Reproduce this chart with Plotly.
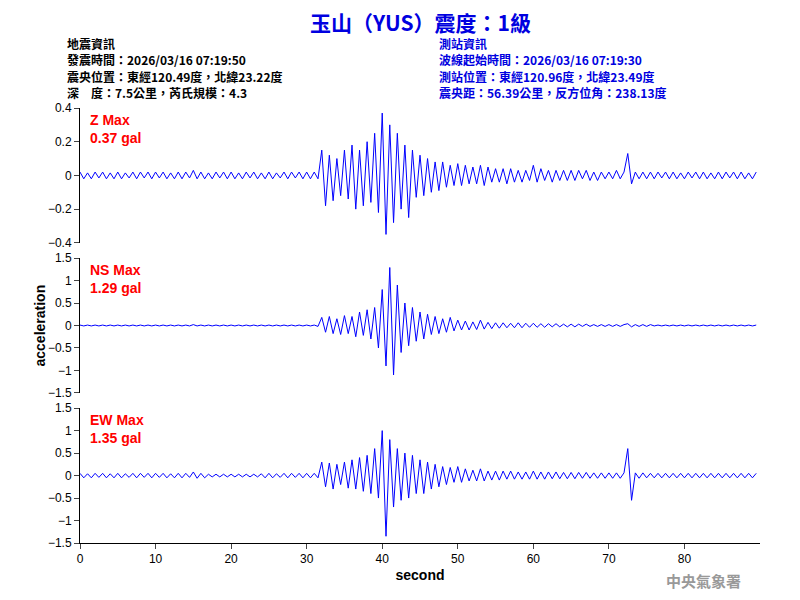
import numpy as np
import plotly.graph_objects as go

# sample time (s), 0.5 s step
t = np.arange(0, 90, 0.5)

z_vals = [
    0.02, -0.02, 0.015, -0.02, 0.02, -0.015, 0.02, -0.02, 0.015, -0.02, 0.02, -0.02, 0.015, -0.015, 0.02, -0.02, 0.02, -0.015, 0.02, -0.02,
    0.02, -0.015, 0.02, -0.02, 0.015, -0.02, 0.02, -0.02, 0.02, -0.015, 0.03, -0.02, 0.02, -0.02, 0.015, -0.02, 0.02, -0.015, 0.02, -0.02,
    0.02, -0.02, 0.015, -0.02, 0.02, -0.015, 0.02, -0.02, 0.015, -0.02, 0.02, -0.02, 0.015, -0.015, 0.02, -0.02, 0.02, -0.015, 0.02, -0.02,
    0.02, -0.02, 0.02, -0.02, 0.15, -0.18, 0.12, -0.15, 0.1, -0.12, 0.15, -0.14, 0.18, -0.2, 0.15, -0.18, 0.2, -0.16, 0.25, -0.22,
    0.37, -0.35, 0.3, -0.28, 0.25, -0.2, 0.18, -0.25, 0.15, -0.13, 0.12, -0.12, 0.1, -0.1, 0.08, -0.09, 0.08, -0.07, 0.06, -0.06,
    0.07, -0.06, 0.06, -0.05, 0.05, -0.05, 0.06, -0.06, 0.05, -0.04, 0.04, -0.04, 0.04, -0.05, 0.04, -0.04, 0.03, -0.04, 0.03, -0.03,
    0.06, -0.04, 0.04, -0.03, 0.03, -0.04, 0.03, -0.03, 0.03, -0.03, 0.03, -0.03, 0.03, -0.02, 0.03, -0.03, 0.02, -0.03, 0.02, -0.02,
    0.02, -0.02, 0.03, -0.02, 0.02, 0.13, -0.05, 0.02, -0.02, 0.02, -0.02, 0.02, -0.02, 0.02, -0.015, 0.02, -0.02, 0.02, -0.02, 0.015,
    -0.02, 0.02, -0.015, 0.02, -0.02, 0.02, -0.02, 0.015, -0.02, 0.02, -0.02, 0.02, -0.015, 0.02, -0.02, 0.02, -0.02, 0.015, -0.02, 0.02,
]

ns_vals = [
    0.01, -0.01, 0.01, -0.01, 0.01, -0.01, 0.01, -0.01, 0.01, -0.01, 0.01, -0.01, 0.01, -0.01, 0.01, -0.01, 0.01, -0.01, 0.01, -0.01,
    0.01, -0.01, 0.01, -0.01, 0.01, -0.01, 0.01, -0.01, 0.01, -0.01, 0.02, -0.01, 0.01, -0.01, 0.01, -0.01, 0.01, -0.01, 0.01, -0.01,
    0.01, -0.01, 0.01, -0.01, 0.01, -0.01, 0.01, -0.01, 0.01, -0.01, 0.01, -0.01, 0.01, -0.01, 0.01, -0.01, 0.01, -0.01, 0.01, -0.01,
    0.01, -0.01, 0.01, -0.02, 0.18, -0.15, 0.2, -0.18, 0.15, -0.2, 0.22, -0.18, 0.2, -0.25, 0.3, -0.22, 0.35, -0.3, 0.4, -0.5,
    0.8, -0.9, 1.29, -1.1, 0.9, -0.6, 0.5, -0.45, 0.4, -0.35, 0.3, -0.3, 0.25, -0.2, 0.2, -0.18, 0.15, -0.15, 0.18, -0.12,
    0.12, -0.1, 0.1, -0.1, 0.08, -0.09, 0.12, -0.08, 0.07, -0.07, 0.06, -0.06, 0.06, -0.05, 0.05, -0.05, 0.06, -0.05, 0.05, -0.04,
    0.05, -0.04, 0.04, -0.04, 0.04, -0.03, 0.04, -0.03, 0.03, -0.03, 0.03, -0.03, 0.03, -0.02, 0.03, -0.02, 0.02, -0.02, 0.02, -0.02,
    0.02, -0.02, 0.02, -0.02, 0.02, 0.04, -0.03, 0.02, -0.02, 0.02, -0.02, 0.02, -0.01, 0.01, -0.01, 0.01, -0.01, 0.01, -0.01, 0.01,
    -0.01, 0.01, -0.01, 0.01, -0.01, 0.01, -0.01, 0.01, -0.01, 0.01, -0.01, 0.01, -0.01, 0.01, -0.01, 0.01, -0.01, 0.01, -0.01, 0.01,
]

ew_vals = [
    0.05, -0.05, 0.04, -0.05, 0.05, -0.04, 0.05, -0.05, 0.04, -0.05, 0.05, -0.05, 0.04, -0.04, 0.05, -0.05, 0.05, -0.04, 0.05, -0.05,
    0.05, -0.04, 0.05, -0.05, 0.04, -0.05, 0.05, -0.05, 0.05, -0.04, 0.08, -0.06, 0.05, -0.05, 0.03, -0.03, 0.03, -0.03, 0.03, -0.03,
    0.03, -0.03, 0.03, -0.03, 0.03, -0.03, 0.03, -0.03, 0.04, -0.05, 0.05, -0.05, 0.04, -0.04, 0.05, -0.05, 0.05, -0.04, 0.05, -0.05,
    0.05, -0.05, 0.05, -0.05, 0.3, -0.25, 0.28, -0.3, 0.25, -0.2, 0.3, -0.28, 0.35, -0.3, 0.4, -0.35, 0.45, -0.4, 0.6, -0.5,
    1.0, -1.35, 0.8, -0.7, 0.6, -0.55, 0.5, -0.5, 0.45, -0.4, 0.35, -0.4, 0.3, -0.3, 0.25, -0.25, 0.2, -0.2, 0.18, -0.15,
    0.2, -0.15, 0.15, -0.12, 0.12, -0.12, 0.15, -0.12, 0.1, -0.1, 0.1, -0.1, 0.1, -0.08, 0.1, -0.08, 0.08, -0.08, 0.08, -0.08,
    0.1, -0.08, 0.08, -0.08, 0.08, -0.07, 0.08, -0.07, 0.07, -0.07, 0.07, -0.07, 0.07, -0.06, 0.07, -0.06, 0.06, -0.06, 0.06, -0.06,
    0.06, -0.06, 0.06, -0.06, 0.06, 0.6, -0.55, 0.06, -0.06, 0.06, -0.05, 0.05, -0.05, 0.05, -0.05, 0.05, -0.05, 0.05, -0.05, 0.05,
    -0.05, 0.05, -0.05, 0.05, -0.05, 0.05, -0.05, 0.05, -0.05, 0.05, -0.05, 0.05, -0.05, 0.05, -0.05, 0.05, -0.05, 0.05, -0.05, 0.05,
]

channels = ["Z", "NS", "EW"]
peaks = ["0.37", "1.29", "1.35"]
series = [z_vals, ns_vals, ew_vals]
y_ranges = [(-0.4, 0.4, 0.2), (-1.5, 1.5, 0.5), (-1.5, 1.5, 0.5)]
x_ticks = [0, 10, 20, 30, 40, 50, 60, 70, 80]

domains = [[0.690, 1.0], [0.345, 0.655], [0.0, 0.310]]
font = "Liberation Sans, Arial, sans-serif"
cjk = "Noto Sans CJK TC, sans-serif"
H = 435  # plot area height in px

fig = go.Figure()
# page body has an 8px offset, margins compensate for it
layout = dict(
    width=800, height=600, paper_bgcolor="white", plot_bgcolor="white",
    margin=dict(l=72, r=48, t=100, b=65, autoexpand=False), showlegend=False,
    font=dict(family=font, size=12, color="black"),
)
for i, (name, vals) in enumerate(zip(channels, series)):
    n = i + 1
    xa = "x" if n == 1 else f"x{n}"
    ya = "y" if n == 1 else f"y{n}"
    fig.add_trace(go.Scatter(x=t, y=vals, mode="lines", line=dict(color="blue", width=1),
                             xaxis=xa, yaxis=ya, hoverinfo="skip"))
    lo, hi, dt = y_ranges[i]
    layout[f"yaxis{'' if n == 1 else n}"] = dict(
        domain=domains[i], range=[lo, hi], dtick=dt, anchor=xa, automargin=False,
        showline=True, linecolor="black", ticks="outside", ticklen=5,
        showgrid=False, zeroline=False, tickfont=dict(size=12),
    )
    layout[f"xaxis{'' if n == 1 else n}"] = dict(
        range=[0, 90], anchor=ya, matches=None if n == 3 else "x3", automargin=False,
        showline=(n == 3), linecolor="black", ticks="outside" if n == 3 else "",
        ticklen=5, tickvals=x_ticks, showticklabels=(n == 3), showgrid=False,
        zeroline=False, tickfont=dict(size=12),
    )
    fig.add_annotation(xref="paper", yref="paper", x=0.012, y=domains[i][1] - 0.005,
                       xanchor="left", yanchor="top", align="left", showarrow=False,
                       text=f"<b>{name} Max<br>{peaks[i]} gal</b>",
                       font=dict(color="red", size=14, family=font))

layout["xaxis3"]["title"] = dict(text="<b>second</b>", font=dict(size=14), standoff=4)
fig.update_layout(**layout)

fig.add_annotation(xref="paper", yref="paper", x=-0.075, y=0.5, textangle=-90,
                   showarrow=False, text="<b>acceleration</b>", font=dict(size=14))

fig.add_annotation(xref="paper", yref="paper", x=0.5, y=1.0 + 86 / H, yanchor="middle",
                   showarrow=False, text="<b>玉山（YUS）震度：1級</b>",
                   font=dict(size=21, color="#0000e0", family=cjk))

left_lines = ["地震資訊", "發震時間：2026/03/16 07:19:50",
              "震央位置：東經120.49度，北緯23.22度", "深　度：7.5公里，芮氏規模：4.3"]
right_lines = ["測站資訊", "波線起始時間：2026/03/16 07:19:30",
               "測站位置：東經120.96度，北緯23.49度", "震央距：56.39公里，反方位角：238.13度"]
for k in range(4):
    yy = 1.0 + (65 - 16.5 * k) / H
    fig.add_annotation(xref="paper", yref="paper", x=-0.022, y=yy, xanchor="left",
                       yanchor="middle", showarrow=False, text=f"<b>{left_lines[k]}</b>",
                       font=dict(size=12, color="black", family=cjk))
    fig.add_annotation(xref="paper", yref="paper", x=0.525, y=yy, xanchor="left",
                       yanchor="middle", showarrow=False, text=f"<b>{right_lines[k]}</b>",
                       font=dict(size=12, color="#0000e0", family=cjk))

fig.add_annotation(xref="paper", yref="paper", x=0.975, y=-37 / H, xanchor="right",
                   yanchor="middle", showarrow=False, text="<b>中央氣象署</b>",
                   font=dict(size=15, color="#999999", family=cjk))

fig.write_html("out.html")
